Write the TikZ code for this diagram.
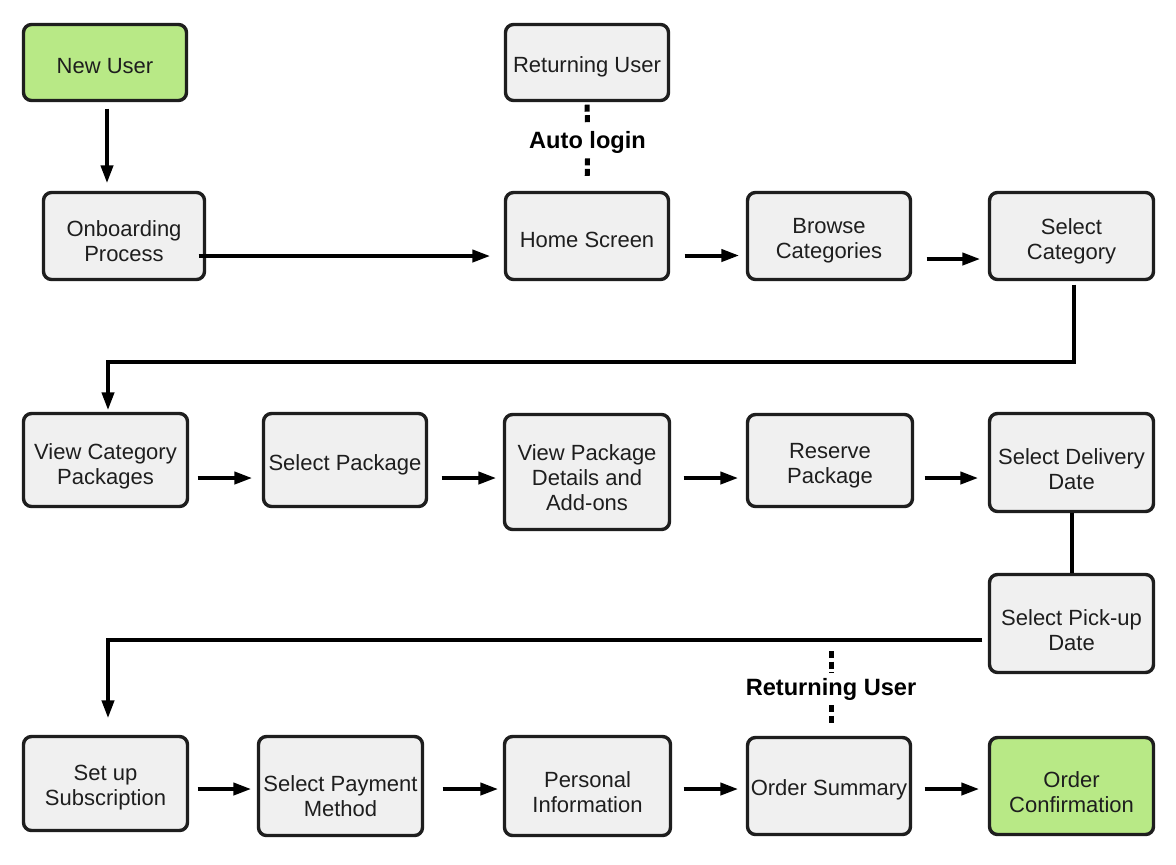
\documentclass[tikz,border=0pt]{standalone}
\usepackage{fontspec}
\setmainfont{Liberation Sans}
\usetikzlibrary{arrows.meta}
\definecolor{boxgray}{HTML}{F0F0F0}
\definecolor{boxgreen}{HTML}{B8E986}
\definecolor{ink}{HTML}{1E1E1E}
\begin{document}
\begin{tikzpicture}[x=0.5pt,y=-0.5pt,
  box/.style={draw=ink, line width=1.7pt, rounded corners=4pt, fill=boxgray, inner sep=0pt},
  txt/.style={font=\fontsize{11}{12.5}\selectfont, text=ink, align=center, inner sep=0pt},
  lbl/.style={font=\fontsize{11.8}{13}\selectfont\bfseries, text=black, inner xsep=4pt, inner ysep=2.5pt},
  arr/.style={draw=black, line width=2pt, -{Triangle[length=9pt,width=6pt]}},
  link/.style={draw=black, line width=2pt},
  dots/.style={draw=black, line width=2.5pt, dash pattern=on 3.5pt off 1.75pt}]
\fill[white] (0,0) rectangle (1176,864);
\useasboundingbox (0,0) rectangle (1176,864);

% row 1
\node[box, fill=boxgreen, minimum width=81.5pt, minimum height=38pt,
  label={[txt,yshift=-2pt]center:New User}] (newuser) at (105,62.5) {};
\node[box, minimum width=80.5pt, minimum height=43.5pt,
  label={[txt,yshift=-2.75pt]center:{Onboarding\\Process}}] (onb) at (124,236) {};
\node[box, minimum width=81.5pt, minimum height=38pt,
  label={[txt,yshift=-2pt]center:Returning User}] (retuser) at (587,62.5) {};
\node[box, minimum width=81.5pt, minimum height=43.5pt,
  label={[txt,yshift=-1.75pt]center:Home Screen}] (home) at (587,236) {};
\node[box, minimum width=81.5pt, minimum height=43.5pt,
  label={[txt,yshift=-2.5pt]center:{Browse\\Categories}}] (browse) at (829,236) {};
\node[box, minimum width=82pt, minimum height=43.5pt,
  label={[txt,yshift=-2.5pt]center:{Select\\Category}}] (selcat) at (1071.5,236) {};

% row 2
\node[box, minimum width=82pt, minimum height=46.5pt,
  label={[txt,yshift=-3.25pt]center:{View Category\\Packages}}] (viewcat) at (105.5,460) {};
\node[box, minimum width=81.5pt, minimum height=46.5pt,
  label={[txt,yshift=-2.25pt]center:Select Package}] (selpkg) at (345,460) {};
\node[box, minimum width=82.5pt, minimum height=57.5pt,
  label={[txt,yshift=-3pt]center:{View Package\\Details and\\Add-ons}}] (viewpkg) at (587,472) {};
\node[box, minimum width=82.5pt, minimum height=46pt,
  label={[txt,yshift=-2.75pt]center:{Reserve\\Package}}] (reserve) at (830,460.5) {};
\node[box, minimum width=82pt, minimum height=49pt,
  label={[txt,yshift=-3.25pt]center:{Select Delivery\\Date}}] (seldel) at (1071.5,462.5) {};
\node[box, minimum width=82pt, minimum height=49pt,
  label={[txt,yshift=-3.25pt]center:{Select Pick-up\\Date}}] (selpick) at (1071.5,623.5) {};

% row 3
\node[box, minimum width=82pt, minimum height=47pt,
  label={[txt,yshift=-2.25pt]center:{Set up\\Subscription}}] (setup) at (105.5,783.5) {};
\node[box, minimum width=82pt, minimum height=49.5pt,
  label={[txt,yshift=-5pt]center:{Select Payment\\Method}}] (selpay) at (340.5,786) {};
\node[box, minimum width=83pt, minimum height=49.5pt,
  label={[txt,yshift=-3pt]center:{Personal\\Information}}] (personal) at (587.5,786) {};
\node[box, minimum width=81.5pt, minimum height=48.5pt,
  label={[txt,yshift=-1.75pt]center:Order Summary}] (ordsum) at (829,786) {};
\node[box, fill=boxgreen, minimum width=82pt, minimum height=48.5pt,
  label={[txt,yshift=-3pt]center:{Order\\Confirmation}}] (ordconf) at (1071.5,786) {};

% dotted labels
\node[lbl] (autolbl) at (587.5,142) {Auto login};
\node[lbl] (retlbl) at (831,689) {Returning User};
\coordinate (rettop) at (831,651);

% connectors row 1
\draw[arr, shorten <=3.25pt, shorten >=3.75pt]
  ([xshift=1pt]newuser.south) -- ([xshift=1pt]newuser.south |- onb.north);
\draw[arr, shorten <=-3.75pt, shorten >=6.75pt]
  ([yshift=-10pt]onb.east) -- ([yshift=-10pt]onb.east -| home.west);
\draw[arr, shorten <=7.25pt, shorten >=3.25pt]
  ([yshift=-9.75pt]home.east) -- ([yshift=-9.75pt]home.east -| browse.west);
\draw[arr, shorten <=7.25pt, shorten >=3.75pt]
  ([yshift=-11.5pt]browse.east) -- ([yshift=-11.5pt]browse.east -| selcat.west);
\draw[arr, shorten <=1.75pt, shorten >=0.75pt]
  ([xshift=1.25pt]selcat.south) -- ++(0,80.5) -| ([xshift=1.25pt]viewcat.north);

% row 2
\draw[arr, shorten <=4.25pt, shorten >=4.75pt]
  ([yshift=-9pt]viewcat.east) -- ([yshift=-9pt]viewcat.east -| selpkg.west);
\draw[arr, shorten <=6.75pt, shorten >=3.25pt]
  ([yshift=-9pt]selpkg.east) -- ([yshift=-9pt]selpkg.east -| viewpkg.west);
\draw[arr, shorten <=6.25pt, shorten >=3.75pt]
  ([yshift=-3pt]viewpkg.east) -- ([yshift=-3pt]viewpkg.east -| reserve.west);
\draw[arr, shorten <=5.25pt, shorten >=4.75pt]
  ([yshift=-8.75pt]reserve.east) -- ([yshift=-8.75pt]reserve.east -| seldel.west);
\draw[link] (seldel.south) -- (selpick.north);
\draw[arr, shorten <=2.75pt, shorten >=8.25pt]
  ([yshift=-8.25pt]selpick.west) -| ([xshift=1.25pt]setup.north);

% row 3
\draw[arr, shorten <=4.25pt, shorten >=2.75pt]
  ([yshift=-2.75pt]setup.east) -- ([yshift=-2.75pt]setup.east -| selpay.west);
\draw[arr, shorten <=9.25pt, shorten >=2.25pt]
  ([yshift=-1.5pt]selpay.east) -- ([yshift=-1.5pt]selpay.east -| personal.west);
\draw[arr, shorten <=5.75pt, shorten >=3.75pt]
  ([yshift=-1.5pt]personal.east) -- ([yshift=-1.5pt]personal.east -| ordsum.west);
\draw[arr, shorten <=6.25pt, shorten >=4.25pt]
  ([yshift=-1.5pt]ordsum.east) -- ([yshift=-1.5pt]ordsum.east -| ordconf.west);

% dotted links
\draw[dots, shorten <=1.25pt] (retuser.south) -- (autolbl.north);
\draw[dots, shorten >=6pt] (autolbl.south) -- (home.north);
\draw[dots] (rettop) -- (retlbl.north);
\draw[dots, shorten >=5pt] (retlbl.south) -- ([xshift=1pt]ordsum.north);
\end{tikzpicture}
\end{document}
